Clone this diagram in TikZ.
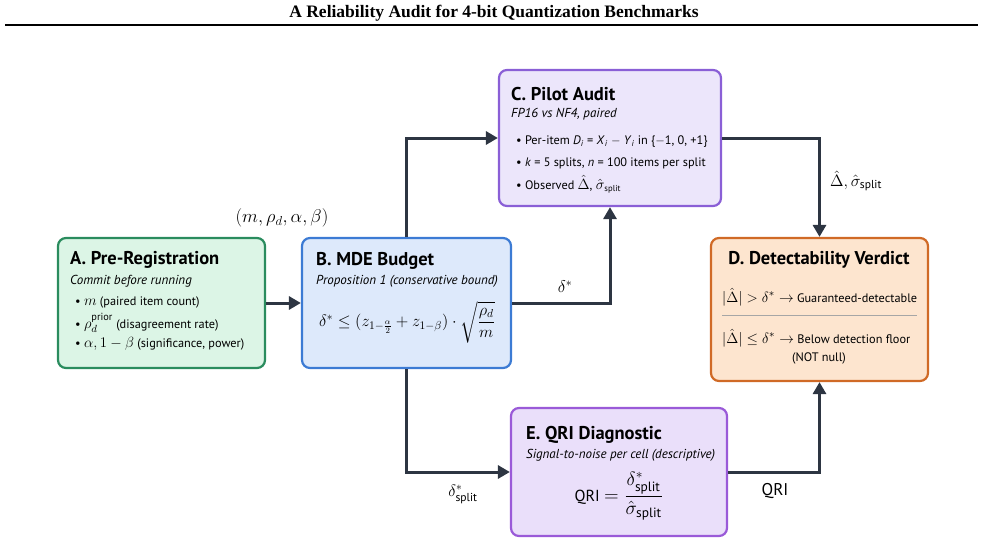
\RequirePackage{fix-cm}
\documentclass[tikz,border=0pt]{standalone}
\usepackage{amsmath}
\usepackage{graphicx}
\usepackage{fontspec}
\setmainfont{PT Sans}
\newfontfamily\titlefont{Liberation Serif}
\usetikzlibrary{arrows.meta,positioning}
\newcommand\M[1]{\scalebox{1.2}{$#1$}}
\definecolor{arr}{HTML}{2D3542}
\definecolor{Afill}{HTML}{DCF5E6}\definecolor{Adraw}{HTML}{2A8C5E}
\definecolor{Bfill}{HTML}{DDE9FB}\definecolor{Bdraw}{HTML}{3C7BD4}
\definecolor{Cfill}{HTML}{ECE6FB}\definecolor{Cdraw}{HTML}{8A5FD6}
\definecolor{Dfill}{HTML}{FDE5CF}\definecolor{Ddraw}{HTML}{D06A26}
\definecolor{Efill}{HTML}{EADFFA}\definecolor{Edraw}{HTML}{9A5AD8}
\tikzset{
  box/.style={rounded corners=8pt, line width=2.2pt, inner sep=0pt},
  conn/.style={draw=arr, line width=3pt, -{Triangle[length=12pt,width=13pt]}},
  ttl/.style={anchor=west, inner sep=0pt, font=\fontsize{18.5}{20}\selectfont\bfseries},
  sub/.style={anchor=west, inner sep=0pt, font=\fontsize{13}{15}\selectfont\itshape},
  bul/.style={anchor=west, inner sep=0pt, font=\fontsize{12.3}{15}\selectfont},
  lbl/.style={inner sep=0pt, font=\fontsize{14}{16}\selectfont},
}
\begin{document}
\begin{tikzpicture}[x=1pt,y=-1pt]
\useasboundingbox (0,0) rectangle (985,543);
\node[inner sep=0pt, font=\titlefont\fontsize{17.5}{19}\selectfont\bfseries] (title) at (494,13) {A Reliability Audit for 4-bit Quantization Benchmarks};
\draw[line width=2pt] (5,25) -- (978,25);

% boxes
\node[box, draw=Adraw, fill=Afill, minimum width=207pt, minimum height=130pt] (A) at (161.5,303) {};
\node[box, draw=Bdraw, fill=Bfill, minimum width=209pt, minimum height=130pt] (B) at (406.5,303) {};
\node[box, draw=Cdraw, fill=Cfill, minimum width=222pt, minimum height=136pt] (C) at (610,138) {};
\node[box, draw=Ddraw, fill=Dfill, minimum width=217pt, minimum height=143pt] (D) at (819.5,309.5) {};
\node[box, draw=Edraw, fill=Efill, minimum width=216pt, minimum height=128pt] (E) at (619,472) {};

% A text
\node[ttl] (At) at (70,260) {A. Pre-Registration};
\node[sub] (As) at (70,281) {Commit before running};
\node[bul] (A1) at (75,302) {\textbullet\ \M{m} (paired item count)};
\node[bul] (A2) at (75,323) {\textbullet\ \M{\rho_d^{\mathrm{prior}}} (disagreement rate)};
\node[bul] (A3) at (75,344) {\textbullet\ \M{\alpha, 1-\beta} (significance, power)};

% B text
\node[ttl] (Bt) at (316,261) {B. MDE Budget};
\node[sub] (Bs) at (316,281) {Proposition 1 (conservative bound)};
\node[lbl, font=\fontsize{16.5}{18}\selectfont] (Bf) at (407,322) {$\delta^* \le (z_{1-\frac{\alpha}{2}} + z_{1-\beta})\cdot\sqrt{\dfrac{\rho_d}{m}}$};

% C text
\node[ttl] (Ct) at (511,94) {C. Pilot Audit};
\node[sub] (Cs) at (511,114) {FP16 vs NF4, paired};
\node[bul] (C1) at (516,142) {\textbullet\ Per-item \textit{D}\textsubscript{\textit{i}} = \textit{X}\textsubscript{\textit{i}} $-$ \textit{Y}\textsubscript{\textit{i}} in \{$-$1, 0, +1\}};
\node[bul] (C2) at (516,163) {\textbullet\ \textit{k} = 5 splits, \textit{n} = 100 items per split};
\node[bul] (C3) at (516,184) {\textbullet\ Observed \M{\hat\Delta}, \M{\hat\sigma}\textsubscript{split}};

% D text
\node[ttl, anchor=center] (Dt) at (819,260) {D. Detectability Verdict};
\node[bul] (D1) at (722,297) {\M{|\hat\Delta| > \delta^* \rightarrow} Guaranteed-detectable};
\draw[draw=gray!70, line width=0.8pt] (722,315) -- (917,315);
\node[bul] (D2) at (722,338) {\M{|\hat\Delta| \le \delta^* \rightarrow} Below detection floor};
\node[bul] (D3) at (792,358) {(NOT null)};

% E text
\node[ttl] (Et) at (526,435) {E. QRI Diagnostic};
\node[sub] (Es) at (526,455) {Signal-to-noise per cell (descriptive)};
\node[lbl, font=\fontsize{16}{18}\selectfont] (Ef) at (619,496) {QRI \M{=\dfrac{\delta^*_{\text{split}}}{\hat\sigma_{\text{split}}}}};

% connectors
\draw[conn] (A.east) -- (B.west);
\draw[conn] (B.north) |- (C.west);
\draw[conn] (B.east) -| (C.south);
\draw[conn] (C.east) -| (D.north);
\draw[conn] (B.south) |- (E.west);
\draw[conn] (E.east) -| (D.south);

% labels
\node[lbl, font=\fontsize{18.5}{20}\selectfont] (l1) at (282,218) {$(m, \rho_d, \alpha, \beta)$};
\node[lbl, font=\fontsize{17}{19}\selectfont] (l2) at (565,287) {$\delta^*$};
\node[lbl, font=\fontsize{16.5}{18}\selectfont] (l3) at (856,181) {$\hat\Delta, \hat\sigma_{\text{split}}$};
\node[lbl, font=\fontsize{16.5}{18}\selectfont] (l4) at (463,494) {$\delta^*_{\text{split}}$};
\node[lbl, font=\fontsize{17}{19}\selectfont] (l5) at (775,491) {QRI};
\end{tikzpicture}
\end{document}
